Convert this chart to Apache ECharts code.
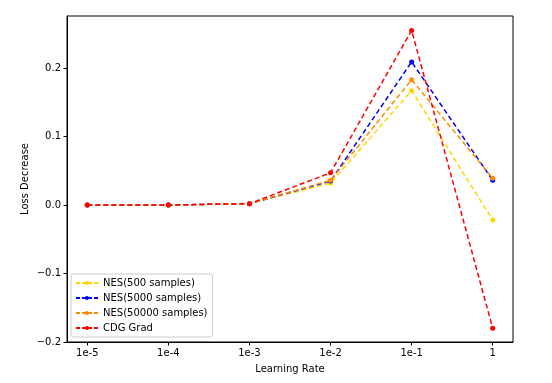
<!DOCTYPE html>
<html><head><meta charset="utf-8">
<script src="https://cdn.jsdelivr.net/npm/echarts@6/dist/echarts.min.js"></script>
<style>html,body{margin:0;padding:0;background:#fff}#c{width:552px;height:383px}</style>
</head><body><div id="c"></div>
<script>
const categories = ["1e-5", "1e-4", "1e-3", "1e-2", "1e-1", "1"];
const nes500 = [0.000, 0.000, 0.002, 0.032, 0.167, -0.022];
const nes5000 = [0.000, 0.000, 0.002, 0.035, 0.209, 0.036];
const nes50000 = [0.000, 0.000, 0.002, 0.036, 0.183, 0.039];
const cdg = [0.000, 0.000, 0.002, 0.047, 0.255, -0.180];
const yTicks = [-0.2, -0.1, 0.0, 0.1, 0.2];
const seriesNames = ["NES(500 samples)", "NES(5000 samples)", "NES(50000 samples)", "CDG Grad"];
const seriesColors = ["#FFD700", "#0000FF", "#FF8C00", "#FF0000"];
const seriesValues = [nes500, nes5000, nes50000, cdg];

const font = "DejaVu Sans";
const chart = echarts.init(document.getElementById('c'), null, {renderer: 'canvas'});
const fmtY = v => { const s = v.toFixed(1); return s.replace('-', '\u2212'); };
chart.setOption({
  animation: false,
  backgroundColor: '#fff',
  textStyle: {fontFamily: font},
  grid: {left: 67, right: 39, top: 16, bottom: 41, show: true, borderColor: '#000', borderWidth: 1, backgroundColor: 'transparent'},
  legend: {
    orient: 'vertical', left: 71, top: 274,
    backgroundColor: '#fff', borderColor: '#ccc', borderWidth: 1, borderRadius: 3,
    padding: [4, 5, 4, 5], itemGap: 5, itemWidth: 22, itemHeight: 9.7,
    itemStyle: {borderWidth: 0},
    textStyle: {fontFamily: font, fontSize: 10, color: '#000'},
    data: seriesNames.map(n => ({name: n, icon: 'path://M0,4 L4,4 L4,6 L0,6 Z M6,4 L10,4 L10,6 L6,6 Z M12,4 L16,4 L16,6 L12,6 Z M18,4 L22,4 L22,6 L18,6 Z M11,3 A2,2 0 1 1 11,7 A2,2 0 1 1 11,3 Z'}))
  },
  xAxis: {
    type: 'value', min: -0.25, max: 5.25,
    name: 'Learning Rate', nameLocation: 'middle', nameGap: 22, nameMoveOverlap: false,
    nameTextStyle: {fontFamily: font, fontSize: 10, color: '#000'},
    axisLine: {show: true, onZero: false, lineStyle: {color: '#000', width: 1}},
    axisTick: {show: true, length: 3.5, lineStyle: {color: '#000'}, customValues: categories.map((c, i) => i)},
    axisLabel: {color: '#000', fontFamily: font, fontSize: 10, margin: 6, customValues: categories.map((c, i) => i), formatter: v => categories[Math.round(v)]},
    splitLine: {show: false}
  },
  yAxis: {
    type: 'value', min: -0.2, max: 0.276,
    name: 'Loss Decrease', nameLocation: 'middle', nameGap: 37, nameRotate: 90, nameMoveOverlap: false,
    nameTextStyle: {fontFamily: font, fontSize: 10, color: '#000'},
    axisLine: {show: true, onZero: false, lineStyle: {color: '#000', width: 1}},
    axisTick: {show: true, length: 3.5, lineStyle: {color: '#000'}, customValues: yTicks},
    axisLabel: {color: '#000', fontFamily: font, fontSize: 10, margin: 6, customValues: yTicks, formatter: fmtY},
    splitLine: {show: false}
  },
  series: seriesNames.map((n, k) => ({
    name: n, type: 'line',
    data: seriesValues[k].map((v, i) => [i, v]),
    color: seriesColors[k],
    symbol: 'circle', symbolSize: 5, showSymbol: true,
    lineStyle: {type: [5, 3], width: 1.5, color: seriesColors[k]},
    itemStyle: {color: seriesColors[k]},
    z: 2 + k
  }))
});
</script></body></html>
